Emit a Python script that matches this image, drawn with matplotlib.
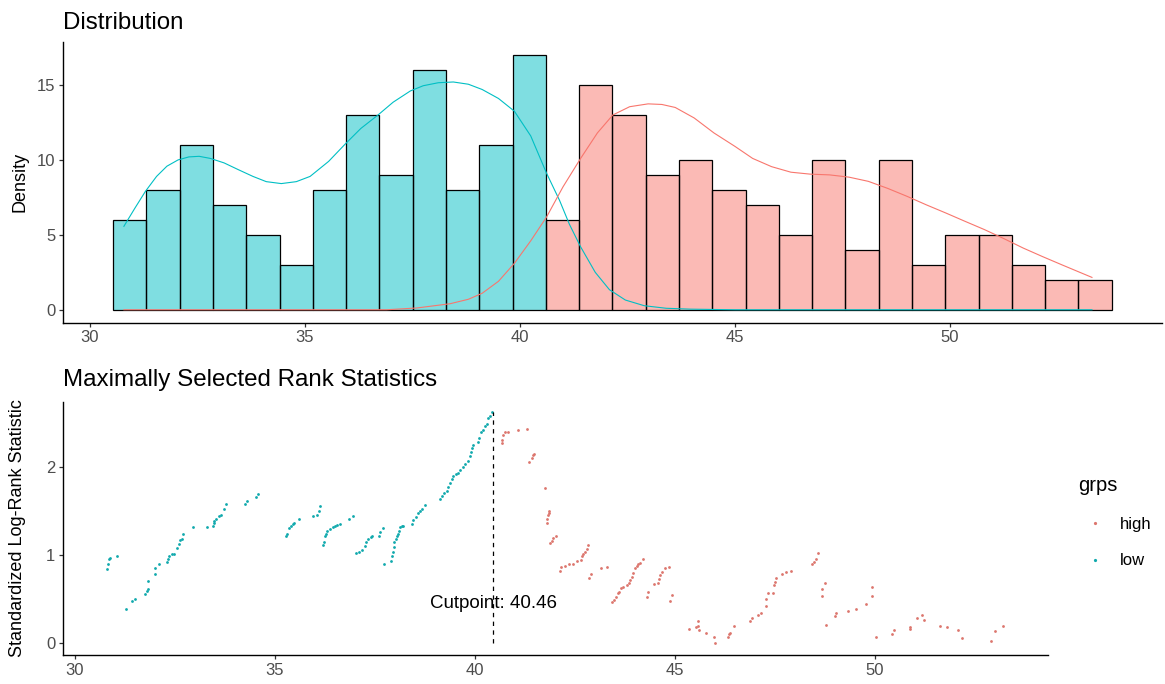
import numpy as np
import matplotlib.pyplot as plt
from matplotlib.lines import Line2D

plt.rcParams["font.family"] = ["Liberation Sans", "DejaVu Sans"]

# Histogram of the cut variable (30 bins), split at the cutpoint
bin_start = 30.54
bin_width = 0.774
low_counts = [6, 8, 11, 7, 5, 3, 8, 13, 9, 16, 8, 11, 17]
high_counts = [6, 15, 13, 9, 10, 8, 7, 5, 10, 4, 10, 3, 5, 5, 3, 2, 2]

# Smoothed density per group, scaled to counts
low_dens_x = [30.79, 31.05, 31.29, 31.55, 31.79, 32.05, 32.3, 32.54, 32.8, 33.12, 33.45,
              33.79, 34.1, 34.45, 34.8, 35.12, 35.55, 35.95, 36.3, 36.7, 37.05, 37.45,
              37.75, 38.1, 38.45, 38.8, 39.12, 39.5, 39.87, 40.25, 40.62, 40.92, 41.15,
              41.41, 41.75, 42.08, 42.45, 42.89, 43.4, 43.97, 45.0, 47.0, 49.0, 51.0,
              53.3]
low_dens_y = [5.57, 6.8, 7.9, 8.9, 9.58, 10.0, 10.2, 10.24, 10.1, 9.8, 9.35,
              8.9, 8.55, 8.42, 8.55, 8.9, 9.9, 11.1, 12.1, 13.0, 13.85, 14.6,
              14.95, 15.15, 15.2, 15.05, 14.7, 14.1, 13.25, 11.6, 9.1, 7.3, 5.7,
              4.2, 2.5, 1.34, 0.65, 0.27, 0.1, 0.04, 0.0, 0.0, 0.0, 0.0,
              0.0]
high_dens_x = [30.79, 33.0, 35.0, 36.9, 37.6, 38.37, 38.8, 39.12, 39.5, 39.87, 40.25,
               40.62, 41.0, 41.41, 41.8, 42.16, 42.55, 42.98, 43.3, 43.61, 44.05, 44.51,
               45.0, 45.41, 45.85, 46.3, 46.75, 47.2, 47.65, 48.1, 48.55, 49.0, 49.45,
               49.9, 50.35, 50.8, 51.25, 51.7, 52.15, 52.6, 53.3]
high_dens_y = [0.0, 0.0, 0.0, 0.0, 0.12, 0.4, 0.7, 1.1, 1.9, 3.1, 4.6,
               6.2, 8.2, 10.1, 11.8, 13.0, 13.55, 13.74, 13.7, 13.5, 12.8, 11.8,
               10.9, 10.1, 9.55, 9.18, 9.05, 9.0, 8.85, 8.57, 8.1, 7.57, 7.0,
               6.46, 5.9, 5.35, 4.75, 4.12, 3.55, 3.0, 2.16]

# Standardized log-rank statistic for each candidate cutpoint
cut_x = [
    30.81, 30.82, 30.85, 30.88, 31.04, 31.28, 31.42, 31.49, 31.76, 31.81, 31.83, 31.83,
    31.99, 32.00, 32.09, 32.30, 32.33, 32.36, 32.43, 32.48, 32.54, 32.60, 32.63, 32.68,
    32.71, 32.94, 33.29, 33.46, 33.47, 33.48, 33.53, 33.60, 33.65, 33.73, 33.77, 34.24,
    34.30, 34.52, 34.58,
    35.28, 35.30, 35.35, 35.40, 35.45, 35.48, 35.60, 35.94, 36.06, 36.09, 36.12, 36.21,
    36.23, 36.25, 36.27, 36.31, 36.38, 36.44, 36.50, 36.54, 36.63, 36.85, 36.94, 37.02,
    37.10, 37.18, 37.25, 37.27, 37.32, 37.39, 37.42, 37.61, 37.63, 37.70, 37.73, 37.90,
    37.92, 37.94, 37.97, 37.98, 38.02, 38.04, 38.08, 38.11, 38.13, 38.17, 38.21, 38.42,
    38.46, 38.52, 38.58, 38.63, 38.68, 38.75, 39.13, 39.18, 39.23, 39.29, 39.33, 39.38,
    39.42, 39.46, 39.52, 39.57, 39.63, 39.69, 39.75, 39.82, 39.88, 39.90, 39.93, 39.96,
    40.07, 40.10, 40.15, 40.21, 40.25, 40.29, 40.33, 40.38, 40.42,
    40.67, 40.68, 40.70, 40.75, 40.82, 41.07, 41.31, 41.35, 41.42, 41.46, 41.48, 41.75,
    41.79, 41.80, 41.83, 41.84, 41.85, 41.88, 41.92, 41.96, 42.02, 42.13, 42.15, 42.25,
    42.35, 42.46, 42.54, 42.65, 42.67, 42.71, 42.75, 42.79, 42.83, 42.85, 42.90, 43.15,
    43.29, 43.42, 43.48, 43.53, 43.57, 43.60, 43.65, 43.69, 43.79, 43.85, 43.88, 43.92,
    43.96, 44.00, 44.04, 44.08, 44.13, 44.19, 44.29, 44.33, 44.48, 44.57, 44.61, 44.63,
    44.67, 44.75, 44.85, 44.88, 44.93, 45.35, 45.52, 45.58, 45.58, 45.60, 45.77, 45.97,
    46.00, 46.33, 46.36, 46.38, 46.48, 46.88, 46.92, 47.08, 47.15, 47.29, 47.29, 47.32,
    47.46, 47.47, 47.50, 47.53, 47.67, 47.79, 47.90, 48.42, 48.48, 48.52, 48.58, 48.68,
    48.68, 48.75, 48.79, 49.00, 49.03, 49.32, 49.54, 49.78, 49.92, 49.94, 50.04, 50.42,
    50.48, 50.88, 50.89, 51.06, 51.17, 51.23, 51.64, 51.81, 52.08, 52.18, 52.90, 53.00,
    53.21,
]
stat = [
    0.84, 0.90, 0.95, 0.96, 0.99, 0.38, 0.47, 0.50, 0.55, 0.59, 0.61, 0.70,
    0.78, 0.85, 0.90, 0.92, 0.95, 0.98, 1.01, 1.01, 1.08, 1.12, 1.17, 1.18,
    1.24, 1.32, 1.32, 1.33, 1.36, 1.38, 1.41, 1.44, 1.45, 1.52, 1.58, 1.58,
    1.61, 1.66, 1.69,
    1.21, 1.24, 1.30, 1.33, 1.35, 1.36, 1.41, 1.44, 1.45, 1.50, 1.55, 1.11,
    1.15, 1.21, 1.24, 1.27, 1.29, 1.31, 1.33, 1.34, 1.35, 1.41, 1.44, 1.02,
    1.03, 1.05, 1.10, 1.14, 1.18, 1.20, 1.21, 1.21, 1.26, 1.30, 0.90, 0.93,
    0.99, 1.03, 1.09, 1.14, 1.18, 1.21, 1.24, 1.27, 1.32, 1.33, 1.33, 1.35,
    1.39, 1.43, 1.48, 1.50, 1.52, 1.57, 1.63, 1.67, 1.70, 1.73, 1.77, 1.82,
    1.86, 1.89, 1.92, 1.93, 1.96, 2.00, 2.03, 2.07, 2.12, 2.17, 2.21, 2.25,
    2.28, 2.33, 2.39, 2.42, 2.46, 2.49, 2.55, 2.58, 2.62,
    2.27, 2.31, 2.36, 2.40, 2.40, 2.42, 2.43, 2.06, 2.10, 2.13, 2.15, 1.76,
    1.36, 1.41, 1.45, 1.48, 1.50, 1.13, 1.16, 1.19, 1.21, 0.82, 0.86, 0.87,
    0.89, 0.90, 0.93, 0.94, 0.98, 1.01, 1.03, 1.07, 1.11, 0.73, 0.78, 0.85,
    0.86, 0.46, 0.49, 0.52, 0.56, 0.58, 0.62, 0.63, 0.66, 0.68, 0.71, 0.75,
    0.79, 0.85, 0.87, 0.89, 0.91, 0.95, 0.52, 0.58, 0.67, 0.68, 0.72, 0.77,
    0.80, 0.85, 0.86, 0.47, 0.54, 0.16, 0.18, 0.25, 0.19, 0.14, 0.11, 0.07,
    0.00, 0.06, 0.10, 0.11, 0.19, 0.25, 0.28, 0.32, 0.34, 0.42, 0.50, 0.56,
    0.57, 0.66, 0.69, 0.73, 0.78, 0.80, 0.81, 0.90, 0.92, 0.95, 1.02, 0.53,
    0.61, 0.68, 0.20, 0.30, 0.34, 0.36, 0.38, 0.44, 0.53, 0.63, 0.07, 0.10,
    0.14, 0.18, 0.16, 0.28, 0.32, 0.26, 0.19, 0.18, 0.14, 0.05, 0.02, 0.13,
    0.19,
]
cutpoint = 40.46

RED = "#F8766D"
TEAL = "#00BFC4"
TICK_GREY = "#4D4D4D"


def classic(ax):
    """ggplot-like classic theme: left/bottom axis lines only."""
    for side in ("top", "right"):
        ax.spines[side].set_visible(False)
    for side in ("left", "bottom"):
        ax.spines[side].set_linewidth(1.0)
        ax.spines[side].set_color("black")
    ax.tick_params(length=3, width=0.9, color="#333333", labelsize=12,
                   labelcolor=TICK_GREY, pad=2.5)


fig = plt.figure(figsize=(11.65, 6.84), dpi=100)

# --- top panel: distribution ---
ax1 = fig.add_axes([0.0543, 0.5285, 0.9428, 0.4097])
n_all = len(low_counts) + len(high_counts)
edges = bin_start + bin_width * np.arange(n_all + 1)
ax1.bar(edges[:len(low_counts)], low_counts, width=bin_width, align="edge",
        color=TEAL, alpha=0.5, edgecolor="none", zorder=1)
ax1.bar(edges[len(low_counts):-1], high_counts, width=bin_width, align="edge",
        color=RED, alpha=0.5, edgecolor="none", zorder=1)
ax1.bar(edges[:-1], low_counts + high_counts, width=bin_width, align="edge",
        fill=False, edgecolor="black", linewidth=0.9, zorder=2)
ax1.plot(low_dens_x, low_dens_y, color=TEAL, lw=0.8, zorder=3)
ax1.plot(high_dens_x, high_dens_y, color=RED, lw=0.8, zorder=3)
ax1.set_xlim(29.38, 54.92)
ax1.set_ylim(-0.85, 17.85)
ax1.set_xticks([30, 35, 40, 45, 50])
ax1.set_yticks([0, 5, 10, 15])
classic(ax1)
ax1.set_ylabel("Density", fontsize=13)
ax1.yaxis.set_label_coords(-0.032, 0.5)
ax1.set_title("Distribution", loc="left", fontsize=17.4, pad=9.4)

# --- bottom panel: maximally selected rank statistics ---
ax2 = fig.add_axes([0.0541, 0.0424, 0.8455, 0.3703])
cx = np.asarray(cut_x)
st = np.asarray(stat)
low = cx <= cutpoint
ax2.scatter(cx[~low], st[~low], s=4, color="#DC766E", linewidths=0, zorder=2)
ax2.scatter(cx[low], st[low], s=4, color="#10A9AD", linewidths=0, zorder=2)
ax2.vlines(cutpoint, 0, st[low].max(), colors="black", linewidth=0.9,
           linestyles=(0, (3.5, 3.5)), zorder=4)
ax2.text(cutpoint, 0.45, f"Cutpoint: {cutpoint:.2f}", ha="center", va="center",
         fontsize=13.5, color="black", zorder=3)
ax2.set_xlim(29.7, 54.33)
ax2.set_ylim(-0.14, 2.74)
ax2.set_xticks([30, 35, 40, 45, 50])
ax2.set_yticks([0, 1, 2])
classic(ax2)
ax2.set_ylabel("Standardized Log-Rank Statistic", fontsize=13)
ax2.yaxis.set_label_coords(-0.0376, 0.5)
ax2.set_title("Maximally Selected Rank Statistics", loc="left", fontsize=17.4, pad=11.3)

handles = [
    Line2D([], [], ls="", marker="o", markersize=2.3, markeredgewidth=0, color="#DC766E"),
    Line2D([], [], ls="", marker="o", markersize=2.3, markeredgewidth=0, color="#10A9AD"),
]
leg = fig.legend(handles, ["high", "low"], title="grps", loc="upper left",
                 bbox_to_anchor=(1078 / 1165, 1 - 476 / 684), frameon=False,
                 fontsize=12, title_fontsize=14.5, borderpad=0, borderaxespad=0,
                 handlelength=2, handletextpad=0.5, labelspacing=1.3,
                 alignment="left")

fig.savefig("out.png", dpi=100)
